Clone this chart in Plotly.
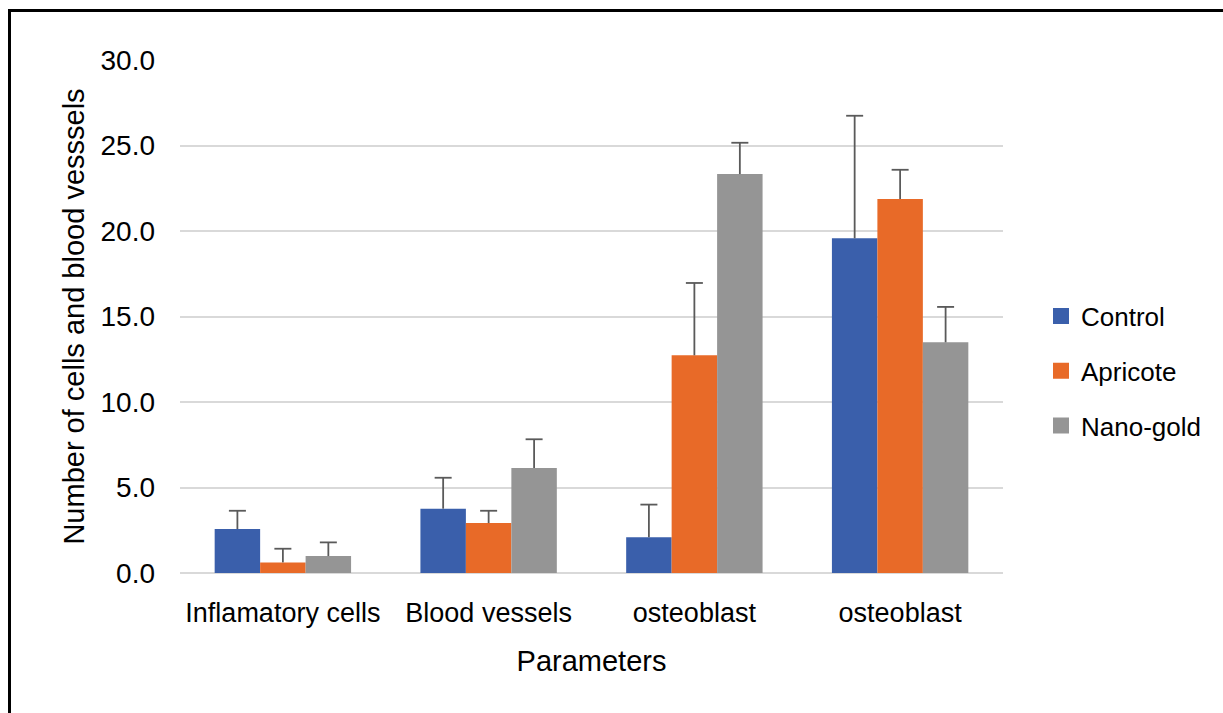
import plotly.graph_objects as go

categories = ["Inflamatory cells", "Blood vessels", "osteoblast", "osteoblast"]
x_pos = [0, 1, 2, 3]
series_names = ["Control", "Apricote", "Nano-gold"]
control = [2.57, 3.76, 2.09, 19.57]
apricote = [0.62, 2.92, 12.73, 21.87]
nanogold = [0.99, 6.14, 23.33, 13.49]
control_err = [1.07, 1.81, 1.91, 7.17]
apricote_err = [0.80, 0.72, 4.23, 1.71]
nanogold_err = [0.80, 1.68, 1.83, 2.07]
colors = ["#3a5fab", "#e86a28", "#959595"]
y_ticks = [0, 5, 10, 15, 20, 25, 30]

L, R, T, B = 180, 220, 60, 140
W, H = 1223, 713
pw, ph = W - L - R, H - T - B

bargap = 0.337
nser = len(series_names)
bw = (1 - bargap) / nser
cap_half = 8.5 / (pw / 4.0)  # cap half-width in category units

fig = go.Figure()
all_vals = [control, apricote, nanogold]
all_errs = [control_err, apricote_err, nanogold_err]
for i, (name, vals) in enumerate(zip(series_names, all_vals)):
    fig.add_trace(go.Bar(
        x=x_pos, y=vals, name=name, legendgroup=name, showlegend=False,
        marker=dict(color=colors[i], line=dict(width=0)),
    ))

# error bars (upper only, no cap at bar top)
for i, (vals, errs) in enumerate(zip(all_vals, all_errs)):
    off = (i - (nser - 1) / 2) * bw
    xs, ys = [], []
    for xc, v, e in zip(x_pos, vals, errs):
        c = xc + off
        xs += [c, c, None, c - cap_half, c + cap_half, None]
        ys += [v, v + e, None, v + e, v + e, None]
    fig.add_trace(go.Scatter(
        x=xs, y=ys, mode="lines", showlegend=False, hoverinfo="skip",
        line=dict(color="#5a5a5a", width=1.8),
    ))

# legend entries with larger square swatches
for i, name in enumerate(series_names):
    fig.add_trace(go.Scatter(
        x=[None], y=[None], mode="markers", name=name, legendgroup=name,
        marker=dict(symbol="square", size=18, color=colors[i]),
    ))

fig.update_layout(
    width=W, height=H,
    margin=dict(l=L, r=R, t=T, b=B),
    paper_bgcolor="white", plot_bgcolor="white",
    barmode="group", bargap=bargap, bargroupgap=0,
    font=dict(family="Liberation Sans, Arial, sans-serif", color="#000000"),
    xaxis=dict(
        tickmode="array", tickvals=x_pos, ticktext=categories,
        range=[-0.5, 3.5], showgrid=False, zeroline=False, showline=False,
        tickfont=dict(size=27), ticks="", ticklabelstandoff=21,
        title=dict(text="Parameters", font=dict(size=29), standoff=23),
    ),
    yaxis=dict(
        range=[0, 30], tickvals=y_ticks, tickformat=".1f",
        showgrid=True, gridcolor="#d9d9d9", gridwidth=1.5,
        zeroline=True, zerolinecolor="#d9d9d9", zerolinewidth=1.5,
        showline=False, ticks="", tickfont=dict(size=28),
        ticklabelstandoff=24,
        title=dict(text="Number of cells and blood vesssels", font=dict(size=29), standoff=7),
    ),
    legend=dict(
        x=(1041 - L) / pw, y=(T + ph - 371) / ph,
        xanchor="left", yanchor="middle",
        font=dict(size=26), tracegroupgap=18, traceorder="grouped",
        itemwidth=30, bgcolor="rgba(0,0,0,0)",
    ),
    shapes=[dict(
        type="rect", xref="paper", yref="paper",
        x0=(9.5 - L) / pw, x1=(1240 - L) / pw,
        y0=(T + ph - 740) / ph, y1=(T + ph - 10.5) / ph,
        line=dict(color="black", width=3), fillcolor="rgba(0,0,0,0)", layer="above",
    )],
)

fig.write_html("out.html", config={"displayModeBar": False},
               post_script="document.body.style.margin='0px';")
